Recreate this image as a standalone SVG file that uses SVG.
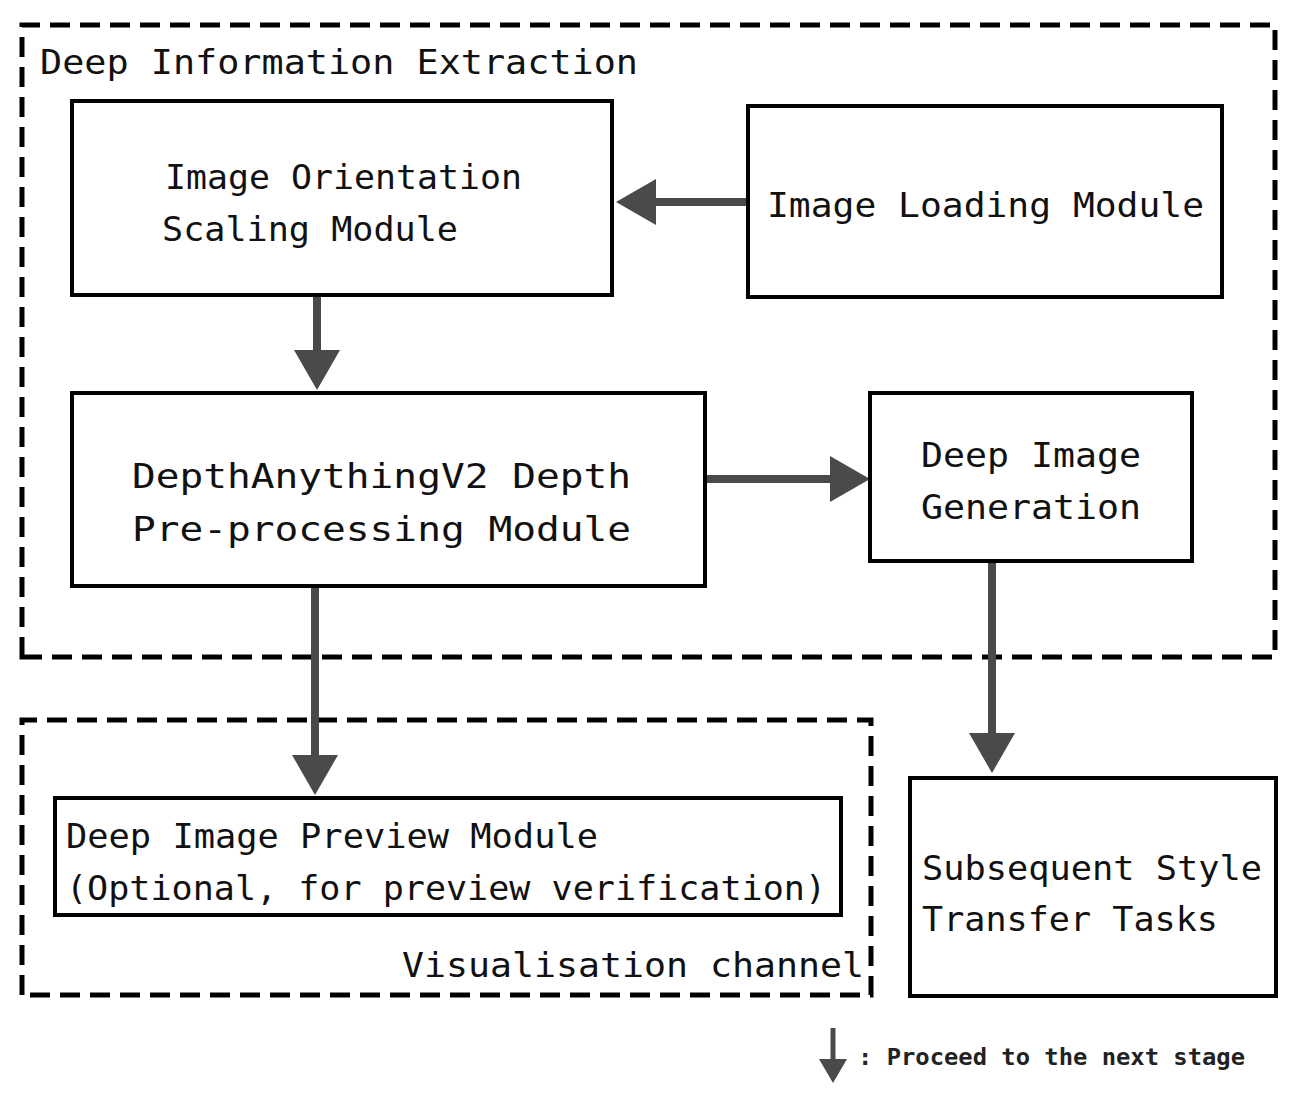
<svg xmlns="http://www.w3.org/2000/svg" width="1298" height="1101" viewBox="0 0 1298 1101">
<style>
.dash{fill:none;stroke:#000;stroke-width:5;stroke-dasharray:20 10}
.box{fill:#fff;stroke:#000;stroke-width:4}
.t{font-family:"DejaVu Sans Mono","Liberation Mono",monospace;font-size:34px;fill:#111}
.c{fill:none;stroke:#4a4a4a;stroke-width:8}
.cs{fill:none;stroke:#4a4a4a;stroke-width:5}
</style>
<defs>
<marker id="ah" viewBox="0 0 40 46" markerWidth="40" markerHeight="46" refX="20" refY="23" orient="auto" markerUnits="userSpaceOnUse">
<path d="M0,0 L40,23 L0,46 Z" fill="#4a4a4a"/>
</marker>
<marker id="ahs" viewBox="0 0 24 28" markerWidth="24" markerHeight="28" refX="12" refY="14" orient="auto" markerUnits="userSpaceOnUse">
<path d="M0,0 L24,14 L0,28 Z" fill="#4a4a4a"/>
</marker>
</defs>
<rect width="1298" height="1101" fill="#fff"/>
<g id="group-extraction">
<path class="dash" d="M22,657 L22,25 L1275,25 L1275,657 Z"/>
<text class="t" x="40" y="74" textLength="598" lengthAdjust="spacingAndGlyphs">Deep Information Extraction</text>
</g>
<g id="group-visualisation">
<path class="dash" d="M22,995 L22,720 L871,720 L871,995 Z"/>
<text class="t" x="402" y="977" textLength="462" lengthAdjust="spacingAndGlyphs">Visualisation channel</text>
</g>
<g id="connectors">
<path class="c" d="M748,202 L636,202" marker-end="url(#ah)"/>
<path class="c" d="M317,295 L317,370" marker-end="url(#ah)"/>
<path class="c" d="M705,479 L850,479" marker-end="url(#ah)"/>
<path class="c" d="M992,561 L992,753" marker-end="url(#ah)"/>
<path class="c" d="M315,586 L315,775" marker-end="url(#ah)"/>
</g>
<g id="node-orientation">
<rect class="box" x="72" y="101" width="540" height="194"/>
<text class="t" x="165" y="189" textLength="357" lengthAdjust="spacingAndGlyphs">Image Orientation</text>
<text class="t" x="162" y="241" textLength="296" lengthAdjust="spacingAndGlyphs">Scaling Module</text>
</g>
<g id="node-loading">
<rect class="box" x="748" y="106" width="474" height="191"/>
<text class="t" x="767" y="217" textLength="437" lengthAdjust="spacingAndGlyphs">Image Loading Module</text>
</g>
<g id="node-depth">
<rect class="box" x="72" y="393" width="633" height="193"/>
<text class="t" x="132" y="488" textLength="499" lengthAdjust="spacingAndGlyphs">DepthAnythingV2 Depth</text>
<text class="t" x="132" y="541" textLength="499" lengthAdjust="spacingAndGlyphs">Pre-processing Module</text>
</g>
<g id="node-generation">
<rect class="box" x="870" y="393" width="322" height="168"/>
<text class="t" x="921" y="467" textLength="220" lengthAdjust="spacingAndGlyphs">Deep Image</text>
<text class="t" x="921" y="519" textLength="220" lengthAdjust="spacingAndGlyphs">Generation</text>
</g>
<g id="node-preview">
<rect class="box" x="55" y="798" width="786" height="117"/>
<text class="t" x="66" y="848" textLength="532" lengthAdjust="spacingAndGlyphs">Deep Image Preview Module</text>
<text class="t" x="66" y="900" textLength="760" lengthAdjust="spacingAndGlyphs">(Optional, for preview verification)</text>
</g>
<g id="node-subsequent">
<rect class="box" x="910" y="778" width="366" height="218"/>
<text class="t" x="922" y="880" textLength="340" lengthAdjust="spacingAndGlyphs">Subsequent Style</text>
<text class="t" x="922" y="931" textLength="296" lengthAdjust="spacingAndGlyphs">Transfer Tasks</text>
</g>
<g id="legend">
<path class="cs" d="M833,1028 L833,1071" marker-end="url(#ahs)"/>
<text x="858" y="1065" font-family="'DejaVu Sans Mono','Liberation Mono',monospace" font-size="23" font-weight="bold" fill="#222" textLength="387" lengthAdjust="spacingAndGlyphs">: Proceed to the next stage</text>
</g>
</svg>
